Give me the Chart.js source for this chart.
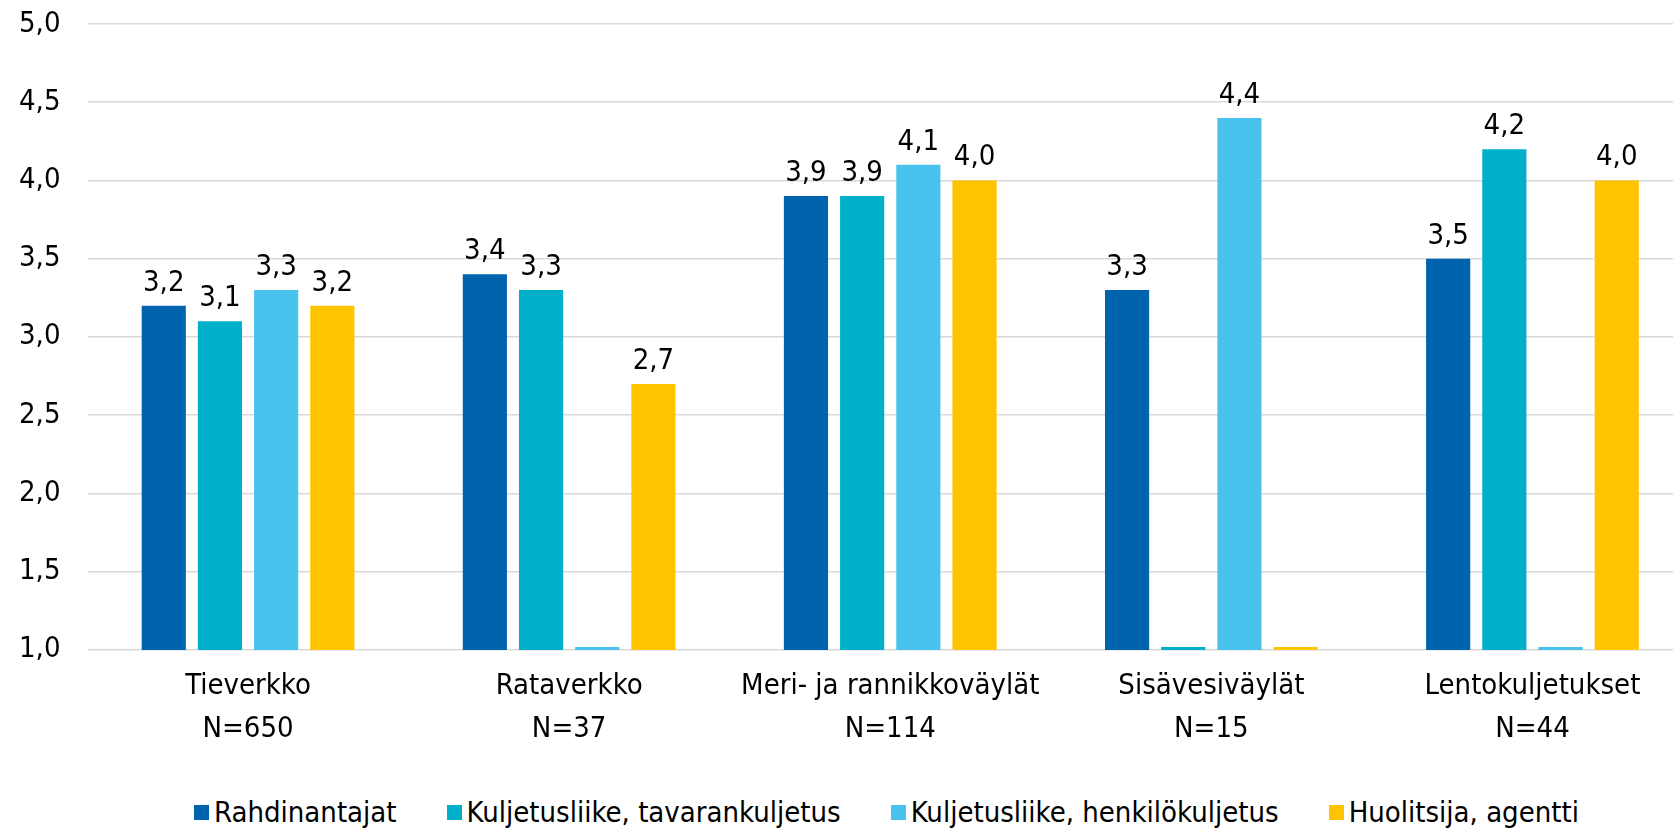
<!DOCTYPE html>
<html>
<head>
<meta charset="utf-8">
<script src="https://cdn.jsdelivr.net/npm/chart.js@4/dist/chart.umd.min.js"></script>
<style>
  html, body { margin: 0; padding: 0; background: #fff; overflow: hidden; }
  #wrap { position: relative; width: 1673px; height: 831px; overflow: hidden; }
  #legend {
    position: absolute; left: 194px; top: 795px;
    display: flex; align-items: center; gap: 50px;
    font-family: "DejaVu Sans Condensed", "DejaVu Sans", sans-serif;
    font-size: 29px; color: #000; white-space: nowrap;
  }
  #legend .item { display: flex; align-items: center; }
  #legend .box { width: 15px; height: 15px; margin-right: 5px; }
</style>
</head>
<body>
<div id="wrap">
  <canvas id="chart" width="1700" height="766"></canvas>
  <div id="legend"></div>
</div>
<script>
// Categories (two-line labels) and series values; null = no answers
const categories = [
  ['Tieverkko', 'N=650'],
  ['Rataverkko', 'N=37'],
  ['Meri- ja rannikkoväylät', 'N=114'],
  ['Sisävesiväylät', 'N=15'],
  ['Lentokuljetukset', 'N=44']
];
const seriesNames = [
  'Rahdinantajat',
  'Kuljetusliike, tavarankuljetus',
  'Kuljetusliike, henkilökuljetus',
  'Huolitsija, agentti'
];
const rahdinantajat = [3.2, 3.4, 3.9, 3.3, 3.5];
const tavarankuljetus = [3.1, 3.3, 3.9, null, 4.2];
const henkilokuljetus = [3.3, null, 4.1, 4.4, null];
const huolitsija = [3.2, 2.7, 4.0, null, 4.0];
const seriesColors = ['#0063AE', '#00B0CB', '#4AC2EE', '#FFC400'];
const Y_MIN = 1;
const Y_MAX = 5;

const FONT = '"DejaVu Sans Condensed", "DejaVu Sans", sans-serif';
const fmt = v => v.toFixed(1).replace('.', ',');

const allSeries = [rahdinantajat, tavarankuljetus, henkilokuljetus, huolitsija];

// Value labels above bars
const valueLabels = {
  id: 'valueLabels',
  afterDatasetsDraw(chart) {
    const ctx = chart.ctx;
    ctx.save();
    ctx.font = '29px ' + FONT;
    ctx.fillStyle = '#000';
    ctx.textAlign = 'center';
    ctx.textBaseline = 'alphabetic';
    chart.data.datasets.forEach((ds, i) => {
      const meta = chart.getDatasetMeta(i);
      meta.data.forEach((bar, j) => {
        const v = allSeries[i][j];
        if (v == null) return;
        ctx.fillText(fmt(v), bar.x, bar.y - 15);
      });
    });
    ctx.restore();
  }
};

const ctx = document.getElementById('chart').getContext('2d');
new Chart(ctx, {
  type: 'bar',
  data: {
    labels: categories,
    datasets: allSeries.map((s, i) => ({
      label: seriesNames[i],
      // bars start at the axis minimum; missing answers become a thin line on the axis
      data: s.map(v => [Y_MIN, v == null ? Y_MIN : v]),
      backgroundColor: seriesColors[i],
      borderWidth: 0,
      minBarLength: 3,
      clip: false,
      categoryPercentage: 0.70,
      barPercentage: 0.786
    }))
  },
  options: {
    responsive: false,
    animation: false,
    layout: { padding: { left: 0, right: 7, top: 24, bottom: 0 } },
    plugins: {
      legend: { display: false },
      tooltip: { enabled: false }
    },
    scales: {
      x: {
        grid: { display: false, drawTicks: false },
        border: { display: false },
        ticks: {
          color: '#000',
          padding: 16,
          maxRotation: 0,
          autoSkip: false,
          font: { family: FONT, size: 29, lineHeight: 1.45 }
        }
      },
      y: {
        min: Y_MIN,
        max: Y_MAX,
        afterFit(scale) {
          scale.width = 87.5;
          scale.paddingTop = 0;
          scale.paddingBottom = 0;
        },
        grid: { color: '#D9D9D9', lineWidth: 1.5, drawTicks: false },
        border: { display: false },
        ticks: {
          stepSize: 0.5,
          color: '#000',
          padding: 27,
          font: { family: FONT, size: 29 },
          callback: v => fmt(v)
        }
      }
    }
  },
  plugins: [valueLabels]
});

// HTML legend
const legend = document.getElementById('legend');
seriesNames.forEach((name, i) => {
  const item = document.createElement('div');
  item.className = 'item';
  const box = document.createElement('span');
  box.className = 'box';
  box.style.background = seriesColors[i];
  const txt = document.createElement('span');
  txt.textContent = name;
  item.appendChild(box);
  item.appendChild(txt);
  legend.appendChild(item);
});
</script>
</body>
</html>
